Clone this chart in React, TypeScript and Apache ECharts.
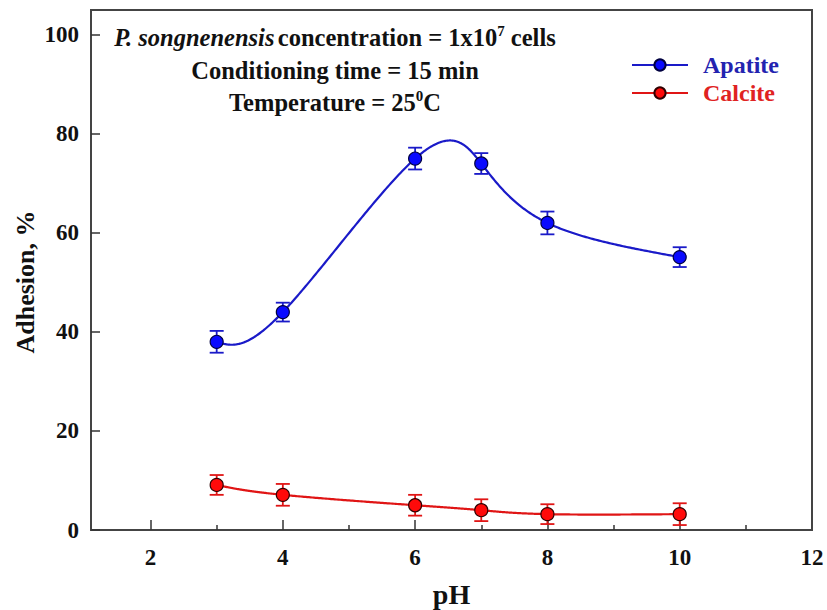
import React, { useEffect, useRef } from "react";
import * as echarts from "echarts";

const pH = [3, 4, 6, 7, 8, 10];
const apatite = [38, 44, 75, 74, 62, 55.1];
const apatiteErr = [2.2, 1.9, 2.2, 2.1, 2.3, 2.0];
const calcite = [9.1, 7.1, 5.0, 4.0, 3.2, 3.2];
const calciteErr = [2.0, 2.2, 2.1, 2.2, 2.0, 2.2];
const xLabels = [2, 4, 6, 8, 10, 12];
const xMajor = [2, 4, 6, 8, 10];
const xMinor = [3, 5, 7, 9, 11];
const yLabels = [0, 20, 40, 60, 80, 100];

const FONT = "'Liberation Serif', 'Times New Roman', serif";

function naturalSpline(xs: number[], ys: number[]) {
  const n = xs.length;
  const h: number[] = [];
  for (let i = 0; i < n - 1; i++) h.push(xs[i + 1] - xs[i]);
  const a: number[] = new Array(n).fill(0);
  const b: number[] = new Array(n).fill(1);
  const c: number[] = new Array(n).fill(0);
  const d: number[] = new Array(n).fill(0);
  for (let i = 1; i < n - 1; i++) {
    a[i] = h[i - 1];
    b[i] = 2 * (h[i - 1] + h[i]);
    c[i] = h[i];
    d[i] = 6 * ((ys[i + 1] - ys[i]) / h[i] - (ys[i] - ys[i - 1]) / h[i - 1]);
  }
  const cp = new Array(n).fill(0);
  const dp = new Array(n).fill(0);
  cp[0] = c[0] / b[0];
  dp[0] = d[0] / b[0];
  for (let i = 1; i < n; i++) {
    const m = b[i] - a[i] * cp[i - 1];
    cp[i] = c[i] / m;
    dp[i] = (d[i] - a[i] * dp[i - 1]) / m;
  }
  const M = new Array(n).fill(0);
  M[n - 1] = dp[n - 1];
  for (let i = n - 2; i >= 0; i--) M[i] = dp[i] - cp[i] * M[i + 1];
  return (x: number) => {
    let i = 0;
    while (i < n - 2 && x > xs[i + 1]) i++;
    const hi = h[i];
    const t1 = xs[i + 1] - x;
    const t2 = x - xs[i];
    return (
      (M[i] * t1 * t1 * t1) / (6 * hi) +
      (M[i + 1] * t2 * t2 * t2) / (6 * hi) +
      (ys[i] / hi - (M[i] * hi) / 6) * t1 +
      (ys[i + 1] / hi - (M[i + 1] * hi) / 6) * t2
    );
  };
}

// parametric (uniform-knot) spline through the points, mapped by the axes
function curveSeries(ys: number[], color: string) {
  return {
    type: "custom",
    z: 2,
    silent: true,
    data: [[pH[0], ys[0]]],
    renderItem: (params: any, api: any) => {
      const P = pH.map((x, i) => api.coord([x, ys[i]]));
      const t = P.map((_, i) => i);
      const fx = naturalSpline(t, P.map((p) => p[0]));
      const fy = naturalSpline(t, P.map((p) => p[1]));
      const total = t[t.length - 1];
      const steps = 400;
      const pts: number[][] = [];
      for (let k = 0; k <= steps; k++) {
        const s = (total * k) / steps;
        pts.push([fx(s), fy(s)]);
      }
      return {
        type: "polyline",
        shape: { points: pts },
        style: { stroke: color, lineWidth: 2.2, fill: null },
      };
    },
  };
}

function errorSeries(ys: number[], errs: number[], color: string) {
  return {
    type: "custom",
    z: 3,
    silent: true,
    data: pH.map((x, i) => [x, ys[i] - errs[i], ys[i] + errs[i]]),
    renderItem: (params: any, api: any) => {
      const x = api.value(0);
      const lo = api.coord([x, api.value(1)]);
      const hi = api.coord([x, api.value(2)]);
      const w = 7;
      const st = { stroke: color, lineWidth: 1.8 };
      return {
        type: "group",
        children: [
          { type: "line", shape: { x1: lo[0], y1: lo[1], x2: hi[0], y2: hi[1] }, style: st },
          { type: "line", shape: { x1: lo[0] - w, y1: lo[1], x2: lo[0] + w, y2: lo[1] }, style: st },
          { type: "line", shape: { x1: hi[0] - w, y1: hi[1], x2: hi[0] + w, y2: hi[1] }, style: st },
        ],
      };
    },
  };
}

export default function App() {
  const ref = useRef<HTMLDivElement>(null);
  useEffect(() => {
    if (!ref.current) return;
    document.body.style.margin = "0";
    const chart = echarts.init(ref.current, null, { renderer: "svg" });
    const blue = "#1a1ac8";
    const red = "#e01515";
    const txt = { fontFamily: FONT, fontWeight: "bold", fontSize: 24.5, lineHeight: 28, fill: "#111" };
    const sup = { fontFamily: FONT, fontWeight: "bold", fontSize: 15, lineHeight: 28, verticalAlign: "top", fill: "#111" };
    chart.setOption({
      animation: false,
      backgroundColor: "#ffffff",
      grid: {
        left: 91,
        right: 15,
        top: 10,
        bottom: 80,
        outerBoundsMode: "none",
        containLabel: false,
        show: true,
        borderColor: "#444",
        borderWidth: 2,
        backgroundColor: "transparent",
      },
      xAxis: [
        {
          type: "value",
          min: 1.1,
          max: 12,
          position: "bottom",
          name: "pH",
          nameLocation: "middle",
          nameGap: 50,
          nameTextStyle: { fontFamily: FONT, fontWeight: "bold", fontSize: 28, color: "#111" },
          axisLine: { onZero: false, lineStyle: { color: "#444", width: 2 } },
          axisTick: { inside: true, length: 10, customValues: xMajor, lineStyle: { color: "#333", width: 1.5 } },
          axisLabel: { customValues: xLabels, margin: 16, fontFamily: FONT, fontWeight: "bold", fontSize: 23, color: "#111" },
          splitLine: { show: false },
        },
        {
          type: "value",
          min: 1.1,
          max: 12,
          position: "bottom",
          axisLine: { show: false },
          axisTick: { inside: true, length: 5, customValues: xMinor, lineStyle: { color: "#333", width: 1.5 } },
          axisLabel: { show: false },
          splitLine: { show: false },
        },
      ],
      yAxis: {
        type: "value",
        min: 0,
        max: 105,
        axisLine: { show: true, lineStyle: { color: "#444", width: 2 } },
        axisTick: { show: true, inside: true, length: 9, customValues: yLabels, lineStyle: { color: "#333", width: 1.5 } },
        axisLabel: { customValues: yLabels, margin: 12, fontFamily: FONT, fontWeight: "bold", fontSize: 23, color: "#111" },
        splitLine: { show: false },
      },
      legend: {
        orient: "vertical",
        left: 626,
        top: 48,
        itemWidth: 56,
        itemHeight: 14,
        itemGap: 4,
        textStyle: { fontFamily: FONT, fontWeight: "bold", fontSize: 24, padding: [0, 0, 0, 10] },
        data: [
          { name: "Apatite", lineStyle: { opacity: 1, width: 2 }, textStyle: { color: "#2323b0" } },
          { name: "Calcite", lineStyle: { opacity: 1, width: 2 }, textStyle: { color: "#e02222" } },
        ],
      },
      graphic: [
        {
          type: "text",
          x: 25,
          y: 282,
          rotation: Math.PI / 2,
          style: {
            text: "Adhesion, %",
            textAlign: "center",
            textVerticalAlign: "middle",
            fontFamily: FONT,
            fontWeight: "bold",
            fontSize: 26,
            fill: "#111",
          },
        },
        {
          type: "text",
          x: 335,
          y: 23,
          style: {
            text: "{i|P. songnenensis} {n|concentration = 1x10}{s|7}{n| cells}",
            textAlign: "center",
            rich: {
              i: { ...txt, fontStyle: "italic" },
              n: txt,
              s: sup,
            },
          },
        },
        {
          type: "text",
          x: 335,
          y: 56,
          style: {
            text: "{n|Conditioning time = 15 min}",
            textAlign: "center",
            rich: { n: txt },
          },
        },
        {
          type: "text",
          x: 335,
          y: 88,
          style: {
            text: "{n|Temperature = 25}{s|0}{n|C}",
            textAlign: "center",
            rich: { n: txt, s: sup },
          },
        },
      ],
      series: [
        curveSeries(apatite, blue),
        curveSeries(calcite, red),
        errorSeries(apatite, apatiteErr, blue),
        errorSeries(calcite, calciteErr, red),
        {
          name: "Apatite",
          type: "line",
          z: 5,
          data: pH.map((x, i) => [x, apatite[i]]),
          symbol: "circle",
          symbolSize: 13,
          lineStyle: { color: blue, width: 2, opacity: 0 },
          itemStyle: { color: "#0a0aff", borderColor: "#000040", borderWidth: 1.2 },
        },
        {
          name: "Calcite",
          type: "line",
          z: 5,
          data: pH.map((x, i) => [x, calcite[i]]),
          symbol: "circle",
          symbolSize: 13,
          lineStyle: { color: red, width: 2, opacity: 0 },
          itemStyle: { color: "#ff0a0a", borderColor: "#300000", borderWidth: 1.2 },
        },
      ],
    });
    return () => chart.dispose();
  }, []);
  return <div ref={ref} style={{ width: 827, height: 610 }} />;
}
